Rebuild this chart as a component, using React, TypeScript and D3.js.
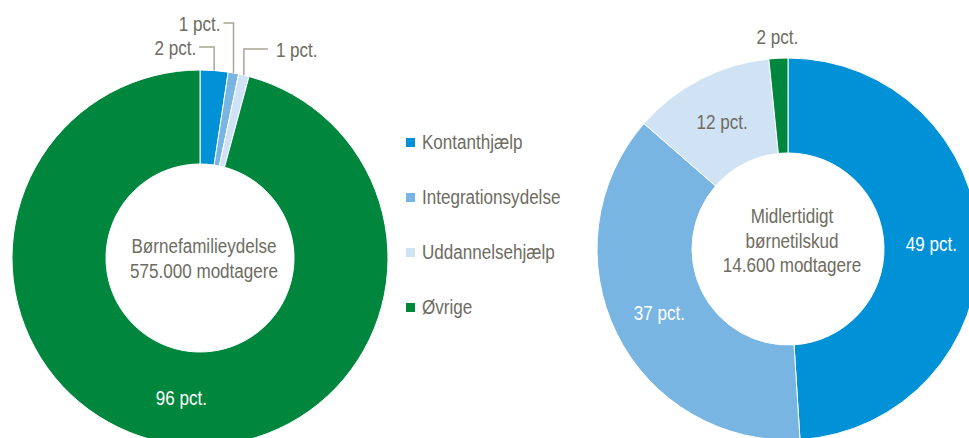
import React from "react";
import * as d3 from "d3";

// ---------- data ----------
const categories = ["Kontanthjælp", "Integrationsydelse", "Uddannelsehjælp", "Øvrige"];
const colors = ["#0091d6", "#78b5e3", "#d0e3f5", "#00863d"];

// Børnefamilieydelse (left donut) – shares in pct.
const leftValues = [2.4, 0.9, 0.9, 95.8];
const leftLabels = ["2 pct.", "1 pct.", "1 pct.", "96 pct."];
const leftTitle = ["Børnefamilieydelse", "575.000 modtagere"];

// Midlertidigt børnetilskud (right donut) – shares in pct.
const rightValues = [49, 37.4, 12, 1.6];
const rightLabels = ["49 pct.", "37 pct.", "12 pct.", "2 pct."];
const rightTitle = ["Midlertidigt", "børnetilskud", "14.600 modtagere"];

// ---------- layout ----------
const W = 969;
const H = 438;
const FONT = "'Liberation Sans', Arial, Helvetica, sans-serif";
const FS = 19.5;
const SX = 0.875;
const TEXT = "#6e6c61";
const LEADER = "#a8a597";

type Anchor = "start" | "middle" | "end";

function Txt({ x, y, children, anchor = "middle", fill = TEXT }: { x: number; y: number; children: React.ReactNode; anchor?: Anchor; fill?: string }) {
  return (
    <text
      transform={`translate(${x},${y}) scale(${SX},1)`}
      textAnchor={anchor}
      fontFamily={FONT}
      fontSize={FS}
      fill={fill}
    >
      {children}
    </text>
  );
}

const pie = d3.pie<number>().sort(null).value((d) => d);

// outside label layout for left donut small slices: [labelY, direction, length]
const leftOutside: Record<number, { y: number; dir: number; len: number }> = {
  0: { y: 47, dir: -1, len: 15 },
  1: { y: 23, dir: -1, len: 10 },
  2: { y: 49, dir: 1, len: 24 },
};

function Donut({ cx, cy, R, r, values, labels, title, titleY, inside, outside }: any) {
  const arcs = pie(values);
  const arc = d3.arc<d3.PieArcDatum<number>>().innerRadius(r).outerRadius(R);
  const outerPt = (a: d3.PieArcDatum<number>, rad: number) => {
    const m = (a.startAngle + a.endAngle) / 2;
    return [Math.sin(m) * rad, -Math.cos(m) * rad];
  };
  return (
    <g transform={`translate(${cx},${cy})`}>
      {arcs.map((a, i) => (
        <path key={i} d={arc(a) || ""} fill={colors[i]} stroke="#fff" strokeWidth={1} />
      ))}
      {arcs.map((a, i) => {
        if (inside.includes(i)) {
          const [x, y] = arc.centroid(a);
          return (
            <Txt key={"l" + i} x={x} y={y + 7} fill={i === 2 ? TEXT : "#fff"}>
              {labels[i]}
            </Txt>
          );
        }
        if (outside && outside[i]) {
          const o = outside[i];
          const [px, py] = outerPt(a, R);
          const ly = o.y - cy;
          const ex = px + o.dir * o.len;
          return (
            <g key={"l" + i}>
              <polyline
                points={`${px},${py} ${px},${ly} ${ex},${ly}`}
                fill="none"
                stroke={LEADER}
                strokeWidth={1.5}
              />
              <Txt x={ex + o.dir * (o.dir < 0 ? 3 : 8)} y={ly + 8} anchor={o.dir < 0 ? "end" : "start"}>
                {labels[i]}
              </Txt>
            </g>
          );
        }
        const [x, y] = outerPt(a, R + 21);
        return (
          <Txt key={"l" + i} x={x} y={y + 7}>
            {labels[i]}
          </Txt>
        );
      })}
      {title.map((t: string, i: number) => (
        <Txt key={"t" + i} x={4} y={titleY + i * 24.5}>
          {t}
        </Txt>
      ))}
    </g>
  );
}

export default function App() {
  return (
    <svg
      width={W}
      height={H}
      viewBox={`0 0 ${W} ${H}`}
      style={{ position: "absolute", left: 0, top: 0, background: "#fff" }}
    >
      <Donut
        cx={200}
        cy={258}
        R={188}
        r={94}
        values={leftValues}
        labels={leftLabels}
        title={leftTitle}
        titleY={-5}
        inside={[3]}
        outside={leftOutside}
      />
      <Donut
        cx={788}
        cy={249}
        R={191}
        r={96}
        values={rightValues}
        labels={rightLabels}
        title={rightTitle}
        titleY={-26}
        inside={[0, 1, 2]}
        outside={null}
      />
      <g>
        {categories.map((c, i) => (
          <g key={c}>
            <rect x={406} y={138 + i * 55} width={9} height={9} fill={colors[i]} />
            <Txt x={422} y={149 + i * 55} anchor="start">
              {c}
            </Txt>
          </g>
        ))}
      </g>
    </svg>
  );
}
